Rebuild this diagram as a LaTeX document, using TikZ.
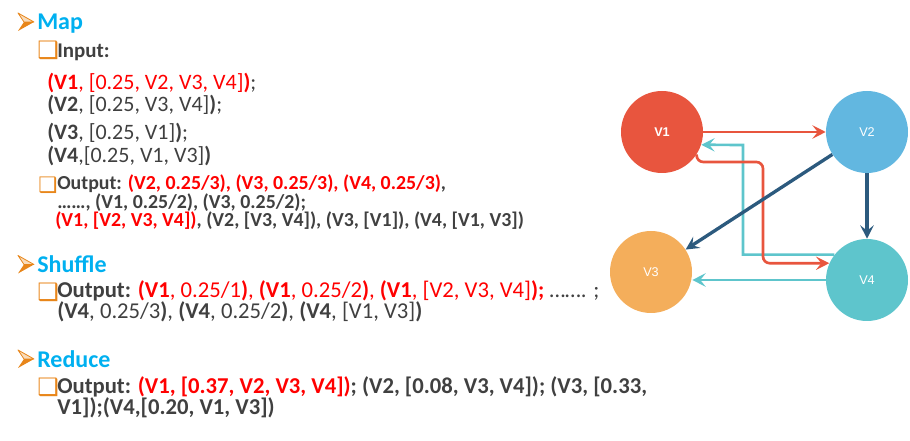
\documentclass[tikz,border=0pt]{standalone}
\usepackage{fontspec}
\setmainfont{Carlito}
\newfontfamily\symfont{DejaVu Sans}
\newfontfamily\nodefont{Liberation Sans}
\usetikzlibrary{arrows.meta}
\definecolor{hblue}{HTML}{00B0F0}
\definecolor{hred}{HTML}{FF0000}
\definecolor{dgray}{HTML}{404040}
\definecolor{borange}{HTML}{E8861A}
\definecolor{vred}{HTML}{E8553E}
\definecolor{vblue}{HTML}{62B7E0}
\definecolor{vorange}{HTML}{F4AE5B}
\definecolor{vteal}{HTML}{5EC5CC}
\definecolor{vdark}{HTML}{2C5A7E}
\def\R#1{\textcolor{hred}{#1}}
\def\B#1{\textbf{#1}}
\tikzset{
  txt/.style={anchor=base west, inner sep=0pt, text=dgray, align=left},
  head/.style={txt, text=hblue, font=\fontsize{18}{20}\selectfont\bfseries},
  sub/.style={txt, font=\fontsize{15.7}{18}\selectfont\bfseries},
  data/.style={txt, font=\fontsize{16.5}{16.5}\selectfont},
  small/.style={txt, font=\fontsize{14.9}{13.9}\selectfont\bfseries},
  big/.style={txt, font=\fontsize{17}{14.25}\selectfont},
  chkb/.style={txt, text=borange, font=\symfont\fontsize{18}{18}\selectfont},
  vertex/.style={circle, minimum size=61.5pt, inner sep=0pt, text=white,
    font=\nodefont\fontsize{9.5}{10}\selectfont},
  link/.style={line width=2pt, -{Stealth[length=10pt, width=10pt, inset=4pt]}},
}
\begin{document}
\begin{tikzpicture}[x=0.75pt,y=-0.75pt]
\useasboundingbox (0,0) rectangle (910,441);

% arrow bullets of the three headings
\foreach \y in {22,264.5,359} {
  \fill[borange] (18,\y+9) -- (34,\y) -- (24,\y) -- cycle;
  \draw[borange, line width=0.6pt, fill=borange!30, line join=round] (18,\y-9) -- (34,\y) -- (24,\y) -- cycle;
}

% Map (multi-line nodes sit on their last baseline)
\node[head] (map) at (37,30) {Map};
\node[chkb] (inb) at (37,59) {❑};
\node[sub] (in) at (57,58) {Input:};
\node[data] (in12) at (47,112) {\R{\B{(V1}, [0.25, V2, V3, V4]\B{)}};\\
  \B{(V2}, [0.25, V3, V4]\B{)};};
\node[data, font=\fontsize{16.5}{17.25}\selectfont] (in34) at (47,163) {\B{(V3}, [0.25, V1]\B{)};\\
  \B{(V4},[0.25, V1, V3]\B{)}};
\node[chkb, font=\symfont\fontsize{16}{16}\selectfont] (outb) at (38,193) {❑};
\node[small] (out) at (57,227) {Output: \R{(V2, 0.25/3), (V3, 0.25/3), (V4, 0.25/3)},\\
  ……, (V1, 0.25/2), (V3, 0.25/2);\\
  \hspace{-1.5pt}\R{(V1, [V2, V3, V4])}, (V2, [V3, V4]), (V3, [V1]), (V4, [V1, V3])};

% Shuffle
\node[head] (shuf) at (37,273) {Shuffle};
\node[chkb] (shufcb) at (37,301) {❑};
\node[big] (shufout) at (57,319) {\B{Output:}
  \R{\B{(V1}, 0.25/1\B{)}, \B{(V1}, 0.25/2\B{)}, \B{(V1}, [V2, V3, V4]\B{);}} ……. ;\\
  \B{(V4}, 0.25/3\B{)}, \B{(V4}, 0.25/2\B{)}, \B{(V4}, [V1, V3]\B{)}};

% Reduce
\node[head] (red) at (37,368) {Reduce};
\node[chkb] (redcb) at (37,396) {❑};
\node[big, font=\fontsize{17}{15}\selectfont\bfseries] (redout) at (57,415) {Output:
  \R{(V1, [0.37, V2, V3, V4])}; (V2, [0.08, V3, V4]); (V3, [0.33,\\
  V1]);(V4,[0.20, V1, V3])};

% graph
\node[vertex, fill=vred, font=\nodefont\fontsize{9.5}{10}\selectfont\bfseries] (v1) at (662,132) {V1};
\node[vertex, fill=vblue] (v2) at (867,132) {V2};
\node[vertex, fill=vorange] (v3) at (651,272) {V3};
\node[vertex, fill=vteal] (v4) at (867,280) {V4};
\coordinate (tk) at (743,145);
\coordinate (rk) at (763,162);

\draw[link, vred] (v1) -- (v2);
\draw[link, vteal] (v4.142) -| (tk) -- (v1.-18);
\draw[link, vred, rounded corners=5pt] (v1.-33) |- (rk) |- (v4.156);
\draw[link, vdark, line width=2.5pt] (v2) -- (v3);
\draw[link, vdark, line width=2.5pt] (v2) -- (v4);
\draw[link, vteal] (v4.west) -- (v3.east |- v4.west);
\end{tikzpicture}
\end{document}
